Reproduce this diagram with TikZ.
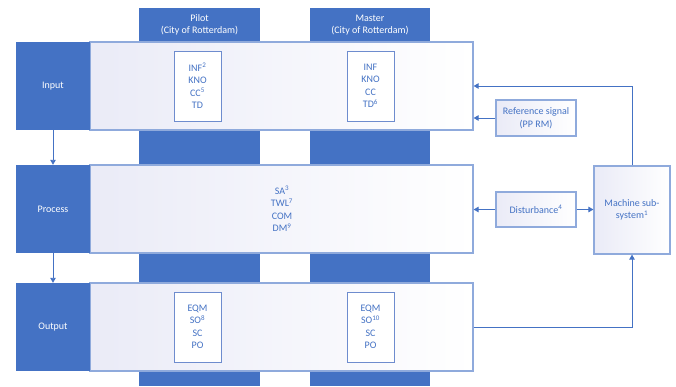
\documentclass[tikz,border=0pt]{standalone}
\usepackage{fontspec}
\setmainfont{Carlito}
\usetikzlibrary{arrows.meta,positioning,calc}
\definecolor{rrblue}{RGB}{68,114,196}
\definecolor{rrline}{RGB}{143,170,220}
\definecolor{rrbox}{RGB}{110,140,206}
\definecolor{rrtint}{RGB}{234,235,247}
\tikzset{
  rrColumn/.style={fill=rrblue, draw=none, inner sep=0pt},
  rrHead/.style={text=white, align=center, font=\fontsize{10}{12.5}\selectfont},
  rrLabel/.style={fill=rrblue, draw=none, text=white, inner sep=0pt,
                  minimum width=74pt, minimum height=88pt,
                  font=\fontsize{10}{12.5}\selectfont},
  rrRow/.style={draw=rrline, line width=1.2pt, left color=rrtint, right color=white,
                inner sep=0pt, minimum width=383pt, minimum height=88pt},
  rrInner/.style={draw=rrbox, line width=0.8pt, fill=white, text=rrblue, align=center,
                  inner sep=0pt, minimum width=47pt, minimum height=70pt,
                  font=\fontsize{10}{12.5}\selectfont},
  rrSide/.style={draw=rrline, line width=1.2pt, left color=rrtint, right color=white,
                 text=rrblue, align=center, inner sep=0pt,
                 font=\fontsize{10}{12.5}\selectfont},
  rrText/.style={text=rrblue, align=center, font=\fontsize{10}{12.5}\selectfont},
  rrArrow/.style={-{Triangle[length=5pt,width=5.5pt]}, draw=rrblue, line width=0.9pt}
}
\newcommand{\rrsup}[1]{\textsuperscript{#1}}

\begin{document}
\begin{tikzpicture}[x=1pt,y=-1pt]
  \useasboundingbox (0,0) rectangle (676,386);
  % columns
  \node[rrColumn, minimum width=121pt, minimum height=378pt] (pilotcol) at (199.5,197) {};
  \node[rrColumn, minimum width=120pt, minimum height=378pt] (mastercol) at (370,197) {};
  \node[rrHead] (pilothead) at (199.5,25) {Pilot\\(City of Rotterdam)};
  \node[rrHead] (masterhead) at (370,25) {Master\\(City of Rotterdam)};

  % rows
  \node[rrRow] (inrow) at (281.5,86) {};
  \node[rrRow] (procrow) at (281.5,209) {};
  \node[rrRow] (outrow) at (281.5,327) {};

  \node[rrLabel] (inlabel) at (53,86) {Input};
  \node[rrLabel] (proclabel) at (53,209) {Process};
  \node[rrLabel] (outlabel) at (53,327) {Output};

  % contents
  \node[rrInner] (pilotin) at (197.5,86) {INF\rrsup{2}\\KNO\\CC\rrsup{5}\\TD};
  \node[rrInner] (masterin) at (370.5,86) {INF\\KNO\\CC\\TD\rrsup{6}};
  \node[rrText] (proctext) at (282,209) {SA\rrsup{3}\\TWL\rrsup{7}\\COM\\DM\rrsup{9}};
  \node[rrInner] (pilotout) at (197.5,327) {EQM\\SO\rrsup{8}\\SC\\PO};
  \node[rrInner] (masterout) at (370.5,327) {EQM\\SO\rrsup{10}\\SC\\PO};

  % right side
  \node[rrSide, minimum width=80pt, minimum height=36pt] (refsig) at (536,118) {Reference signal\\(PP RM)};
  \node[rrSide, minimum width=80pt, minimum height=35pt] (disturb) at (536,209.5) {Disturbance\rrsup{4}};
  \node[rrSide, minimum width=76pt, minimum height=88pt] (machine) at (632,210) {Machine sub-\\system\rrsup{1}};

  % connectors
  \draw[rrArrow] (inlabel.south) -- (proclabel.north);
  \draw[rrArrow] (proclabel.south) -- (outlabel.north);
  \draw[rrArrow] (machine.north) |- (inrow.east);
  \draw[rrArrow] (refsig.west) -- (refsig.west -| inrow.east);
  \draw[rrArrow] (disturb.west) -- (disturb.west -| procrow.east);
  \draw[rrArrow] (disturb.east) -- (disturb.east -| machine.west);
  \draw[rrArrow] (outrow.east) -| (machine.south);
\end{tikzpicture}
\end{document}
